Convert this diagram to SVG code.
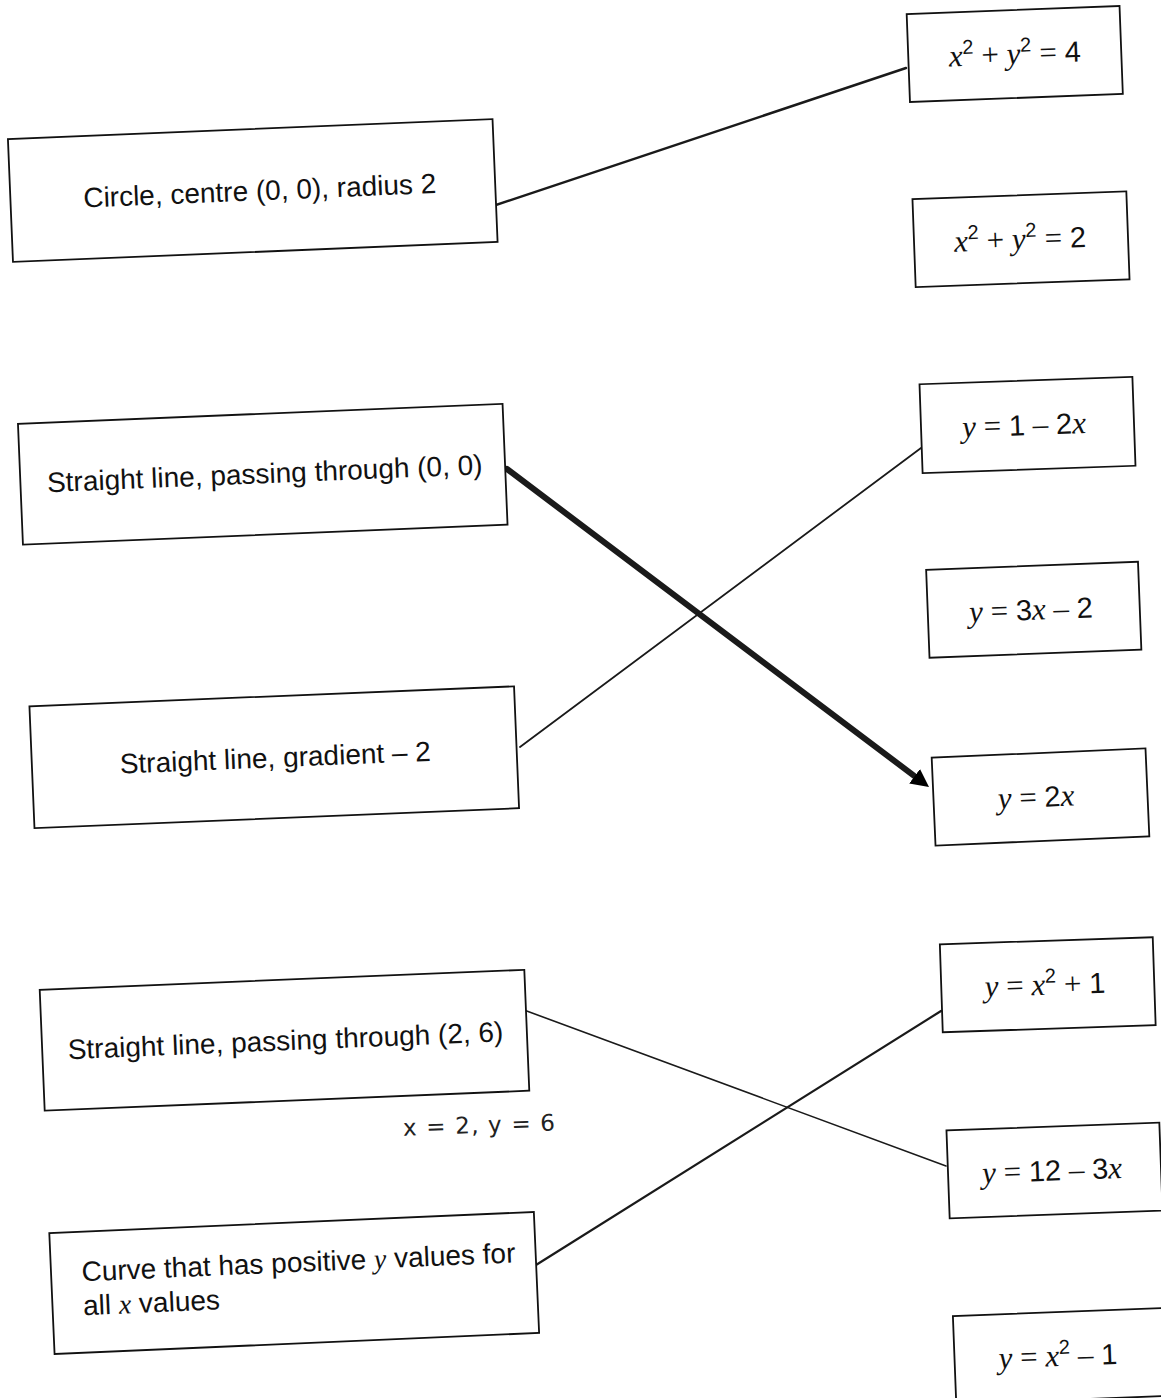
<svg xmlns="http://www.w3.org/2000/svg" width="1161" height="1398" viewBox="0 0 1161 1398">
<defs>
<style>
.box{fill:#fff;stroke:#111;stroke-width:1.8}
.lbl{font-family:"Liberation Sans",Arial,sans-serif;font-size:28px;fill:#111}
.eq{font-family:"Liberation Serif","Times New Roman",serif;font-size:31px;fill:#111}
.v{font-family:"Liberation Serif","Times New Roman",serif;font-style:italic}
.n{font-family:"Liberation Sans",Arial,sans-serif;font-size:29px}
.sup{font-family:"Liberation Sans",Arial,sans-serif;font-size:20px}
.conn{fill:none;stroke:#1a1a1a;stroke-linecap:round}
.hand{font-family:"DejaVu Sans",sans-serif;font-size:23px;fill:#222}
</style>
<marker id="arrow" markerUnits="userSpaceOnUse" markerWidth="20" markerHeight="20" refX="4" refY="9" orient="auto">
<path d="M0,0 L18,9 L0,18 z" fill="#000"/>
</marker>
</defs>
<rect width="1161" height="1398" fill="#fff"/>

<g id="connectors">
<line class="conn" x1="490" y1="207" x2="906" y2="68" stroke-width="2.4" stroke="#333"/>
<line class="conn" x1="507" y1="469" x2="917.8" y2="778.6" stroke-width="6" stroke="#000" stroke-linecap="butt" marker-end="url(#arrow)"/>
<line class="conn" x1="520" y1="747" x2="921" y2="448" stroke-width="1.8"/>
<line class="conn" x1="524" y1="1010" x2="946" y2="1166" stroke-width="1.6"/>
<line class="conn" x1="536" y1="1265" x2="941" y2="1011" stroke-width="2.2"/>
</g>

<g id="node-circle" transform="rotate(-2.36 252.75 190.5)">
<rect class="box" x="10.25" y="129" width="485" height="123"/>
<text class="lbl" x="259.75" y="200.5" text-anchor="middle">Circle, centre (0, 0), radius 2</text>
</g>

<g id="node-line-origin" transform="rotate(-2.36 262.75 474.25)">
<rect class="box" x="20.25" y="413.75" width="485" height="121"/>
<text class="lbl" x="264.75" y="483.25" text-anchor="middle">Straight line, passing through (0, 0)</text>
</g>

<g id="node-gradient" transform="rotate(-2.36 274.25 757.25)">
<rect class="box" x="31.75" y="696.25" width="485" height="122"/>
<text class="lbl" x="275.25" y="767.25" text-anchor="middle">Straight line, gradient – 2</text>
</g>

<g id="node-line-26" transform="rotate(-2.36 284.5 1040.25)">
<rect class="box" x="42" y="979.75" width="485" height="121"/>
<text class="lbl" x="285.5" y="1050.25" text-anchor="middle">Straight line, passing through (2, 6)</text>
</g>

<text class="hand" x="403" y="1133" textLength="152" lengthAdjust="spacing" transform="rotate(-2 480 1125)">x = 2, y = 6</text>

<g id="node-curve" transform="rotate(-2.5 294.25 1284)">
<rect class="box" x="51.75" y="1222.5" width="485" height="121"/>
<text class="lbl" x="82.25" y="1272"><tspan>Curve that has positive </tspan><tspan class="v">y</tspan><tspan> values for</tspan></text>
<text class="lbl" x="82.25" y="1306">all <tspan class="v">x</tspan> values</text>
</g>

<g id="node-x2y2-4" transform="rotate(-2.15 1014.75 54)">
<rect class="box" x="908.25" y="10" width="213" height="88"/>
<text class="eq" x="1014.75" y="64" text-anchor="middle"><tspan class="v">x</tspan><tspan class="sup" dy="-12">2</tspan><tspan dy="12"> + </tspan><tspan class="v">y</tspan><tspan class="sup" dy="-12">2</tspan><tspan dy="12"> = </tspan><tspan class="n">4</tspan></text>
</g>

<g id="node-x2y2-2" transform="rotate(-2.1 1021 239.25)">
<rect class="box" x="914" y="195.25" width="214" height="88"/>
<text class="eq" x="1020" y="249.25" text-anchor="middle"><tspan class="v">x</tspan><tspan class="sup" dy="-12">2</tspan><tspan dy="12"> + </tspan><tspan class="v">y</tspan><tspan class="sup" dy="-12">2</tspan><tspan dy="12"> = </tspan><tspan class="n">2</tspan></text>
</g>

<g id="node-1-2x" transform="rotate(-2.0 1027.5 425)">
<rect class="box" x="921" y="380.5" width="213" height="89"/>
<text class="eq" x="1024" y="435" text-anchor="middle"><tspan class="v">y</tspan> = <tspan class="n">1</tspan> – <tspan class="n">2</tspan><tspan class="v">x</tspan></text>
</g>

<g id="node-3x-2" transform="rotate(-2.2 1033.75 609.75)">
<rect class="box" x="927.75" y="565.75" width="212" height="88"/>
<text class="eq" x="1031" y="619.75" text-anchor="middle"><tspan class="v">y</tspan> = <tspan class="n">3</tspan><tspan class="v">x</tspan> – <tspan class="n">2</tspan></text>
</g>

<g id="node-2x" transform="rotate(-2.5 1040.5 797)">
<rect class="box" x="933.5" y="753" width="214" height="88"/>
<text class="eq" x="1036" y="807" text-anchor="middle"><tspan class="v">y</tspan> = <tspan class="n">2</tspan><tspan class="v">x</tspan></text>
</g>

<g id="node-x2p1" transform="rotate(-1.9 1047.75 984.75)">
<rect class="box" x="941.25" y="940.75" width="213" height="88"/>
<text class="eq" x="1045" y="994.75" text-anchor="middle"><tspan class="v">y</tspan> = <tspan class="v">x</tspan><tspan class="sup" dy="-12">2</tspan><tspan dy="12"> + </tspan><tspan class="n">1</tspan></text>
</g>

<g id="node-12-3x" transform="rotate(-2.1 1054 1170.5)">
<rect class="box" x="948" y="1126.5" width="213" height="88"/>
<text class="eq" x="1052" y="1180.5" text-anchor="middle"><tspan class="v">y</tspan> = <tspan class="n">12</tspan> – <tspan class="n">3</tspan><tspan class="v">x</tspan></text>
</g>

<g id="node-x2m1" transform="rotate(-2.2 1061 1356)">
<rect class="box" x="954.5" y="1312" width="213" height="88"/>
<text class="eq" x="1058" y="1366" text-anchor="middle"><tspan class="v">y</tspan> = <tspan class="v">x</tspan><tspan class="sup" dy="-12">2</tspan><tspan dy="12"> – </tspan><tspan class="n">1</tspan></text>
</g>
</svg>
